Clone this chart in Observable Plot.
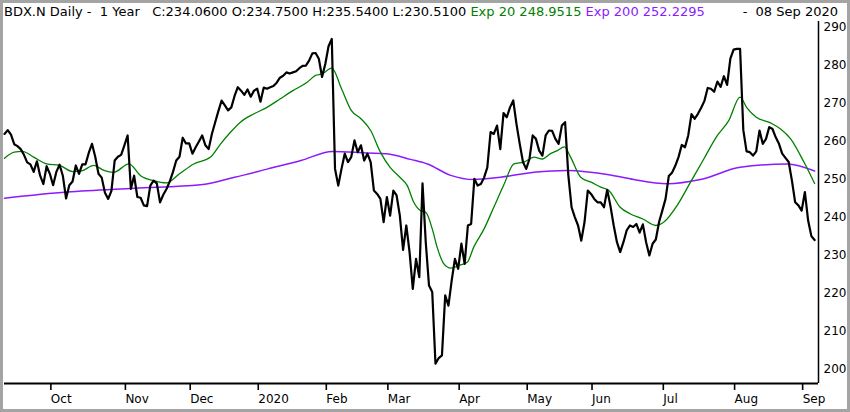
<!DOCTYPE html>
<html>
<head>
<meta charset="utf-8">
<script src="https://cdn.jsdelivr.net/npm/d3@7"></script>
<script src="https://cdn.jsdelivr.net/npm/@observablehq/plot@0.6"></script>
<style>
  html, body { margin: 0; padding: 0; background: #fff; }
  #wrap { position: relative; width: 850px; height: 412px; overflow: hidden; background: #fff; }
  #chart { position: absolute; left: 0; top: 0; }
  #border { position: absolute; left: 0; top: 0; width: 850px; height: 412px; box-sizing: border-box;
            border: 3px solid #a4a4a4; pointer-events: none; }
  #header { position: absolute; left: 4px; top: 4px; font-family: "DejaVu Sans", sans-serif; font-size: 13px;
            line-height: 15px; white-space: pre; color: #000; }
  #hdate { position: absolute; right: 12px; top: 4px; font-family: "DejaVu Sans", sans-serif; font-size: 13px;
           line-height: 15px; white-space: pre; color: #000; }
  .g { color: #008000; }
  .p { color: #8c1aff; }
</style>
</head>
<body>
<div id="wrap">
  <div id="chart"></div>
  <div id="header">BDX.N Daily -  1 Year   C:234.0600 O:234.7500 H:235.5400 L:230.5100 <span class="g">Exp 20 248.9515</span> <span class="p">Exp 200 252.2295</span></div>
  <div id="hdate">-  08 Sep 2020</div>
  <div id="border"></div>
</div>
<script>
// Daily closes, trading days from 11 Sep 2019 to 08 Sep 2020
const closeValues = [
  262, 263, 261.8, 259.3, 258.8, 258, 256.5, 254.5, 254, 252,
  254.8, 251, 248.8, 253.5, 251.5, 248.5, 252, 253.9, 251, 245,
  248.5, 249.5, 253.7, 251.5, 254, 254, 257, 259.4, 256, 251.5,
  250.5, 246.5, 244.9, 247, 255, 256, 256.5, 259, 261.6, 247.5,
  251, 245.4, 245.2, 243.2, 243, 248.4, 249.7, 249, 244, 246,
  247.5, 249.5, 252, 255, 256, 261, 259.5, 259.5, 256.8, 258.5,
  260, 261.6, 259, 258,
  262, 265, 268, 270.8, 269.5, 268.2, 269, 272, 274.3, 273.4,
  272.3, 273.7, 271.8, 273.4, 273.9, 270.5, 274.2, 273.9, 274.3, 274.6,
  275.5, 276.8, 277.3, 278.2, 277.9, 278.2, 278.5, 279.3, 279.9, 280,
  281.3, 283.2, 283.3, 281.8, 277, 280.4, 285.1, 287, 252.8, 248.4,
  252.8, 256.8, 254.6, 255.9, 260.3, 257.2, 259, 255, 256.8, 254.6,
  247.1, 246.2, 244.9, 238.8, 245.4, 240.5, 247.1, 245.8, 240.5, 231.5,
  237.9, 230.9,
  221.2, 229.1, 224.3, 249, 233.5, 222.1, 220.4, 201.5, 203, 203.7,
  219.5, 216.8, 223.4, 229.1, 226.5, 233.1, 227.8, 237.9, 238.3, 250.2,
  248.4, 248.8, 250.5, 253.2, 262.5, 262, 264.2, 258, 267.5, 266.4,
  269, 270.8, 264.6, 259.4, 254.6, 252.8, 255.4, 261.6, 260.7, 257.6,
  256.3, 261.6, 262.9, 262.8, 260.7, 259.4, 264.2, 265.1, 251.1, 242.7,
  240.1, 237.9, 233.9, 238.8, 247.1, 246.2, 244.9, 244, 244, 242.7,
  247.3, 243,
  237.9, 233.5, 230.9, 233.5, 236.6, 237.9, 237.5, 238.3, 236, 238.2,
  233.5, 230, 233.1, 234.2, 238.8, 241.8, 244.9, 250.9, 251.8, 253.6,
  255.9, 259.1, 258.5, 261.6, 267.2, 266, 267.3, 268.9, 270.7, 274.1,
  273.9, 273.1, 275.8, 274.4, 277.2, 274.9, 281.8, 284.2, 284.4, 284.4,
  263, 257.4, 257.2, 256.3, 257.4, 262.9, 259.4, 260.7, 263.8, 263.3,
  261.1, 259.4, 256.8, 255.7, 254.6, 249.7, 244, 243.2, 241.8, 246.7,
  239.2, 235.1, 234.06
];

// Exp 20 moving average, read at trading-day positions
const ema20Day = [0, 3, 5.5, 9, 13, 17, 21, 23.5, 27.6, 30.7, 33.7, 38.4, 42, 46, 50, 54, 58.4,
  63.6, 66.7, 69.8, 72.8, 77, 81, 85, 89, 93.4, 96, 98, 101, 104, 107, 110, 113, 116, 119, 122, 124.3,
  126.3, 128.4, 130, 132, 133.5, 135.6, 137.7, 140.7, 142.8, 144.8, 148, 151, 154, 157.2, 160.3, 163.4,
  166, 168.5, 170.6, 172.8, 174.7, 177.8, 181, 184,
  186.5, 190, 193, 197, 201, 203.5, 207.6, 211.7, 215.8, 220, 223.5, 227, 229, 232, 236.4, 239.5, 242.6, 246.7, 250];
const ema20Value = [255.6, 257.2, 257.4, 255.9, 254.1, 253.7, 252.1, 252.2, 253.7, 252.4, 251.9, 254.1, 251, 249.7, 249.1, 251.5, 254.1,
  255.9, 259.4, 262.5, 265.1, 267.3, 269, 271.2, 273.4, 275.6, 277.4, 277.8, 279.3, 273.9, 268.2, 266, 262.9, 257.2, 253.2, 250.6, 248.4,
  244, 241.8, 241.4, 237, 232.2, 227.8, 226.7, 227.5, 228.2, 232.2, 237, 242.7, 248.4, 254.1, 254.6, 255.9,
  255.4, 256.8, 257.6, 258.6, 255.9, 250.6, 249.3, 248,
  247.1, 242.7, 241, 239.6, 237.9, 238.8, 243.2, 249.3, 255.4, 261.6, 265.5, 271.7, 269, 266.4, 264.9, 263.3, 260.7, 254.6, 248.9515];

// Exp 200 moving average
const ema200Day = [0, 19.3, 40, 60.5, 71, 81.3, 91.5, 101.2, 112, 118, 125.3, 130.5, 137.7, 144.8, 153, 163.4, 173.7, 187, 194.2, 204.5, 214.8, 227, 241.6, 250];
const ema200Value = [245.1, 246.7, 247.7, 248.6, 250.6, 252.8, 255, 257.4, 257, 256.8, 255.3, 254.1, 251.1, 250, 250.6, 251.9, 252.4, 251.2, 250, 248.9, 250, 253.2, 254.1, 252.2295];

// Month ticks (trading-day index of first session of each month)
const monthTickDay = [14, 37, 57, 78, 99, 118, 140, 161, 181, 203, 225, 246];
const monthTickLabel = ["Oct", "Nov", "Dec", "2020", "Feb", "Mar", "Apr", "May", "Jun", "Jul", "Aug", "Sep"];
const priceTicks = [200, 210, 220, 230, 240, 250, 260, 270, 280, 290];

const xDomain = [0, 251.2];
const yDomain = [196.3, 291.6];

const closeData = closeValues.map((v, i) => ({day: i, value: v}));
const ema20Data = ema20Day.map((d, i) => ({day: d, value: ema20Value[i]}));
const ema200Data = ema200Day.map((d, i) => ({day: d, value: ema200Value[i]}));

const chart = Plot.plot({
  width: 850,
  height: 412,
  marginLeft: 4,
  marginRight: 32,
  marginTop: 21,
  marginBottom: 29,
  style: {background: "transparent", fontFamily: "DejaVu Sans, sans-serif", fontSize: "12px", color: "black"},
  x: {domain: xDomain, axis: null, label: null},
  y: {domain: yDomain, axis: null, label: null},
  marks: [
    Plot.axisX({ticks: monthTickDay, tickFormat: d => monthTickLabel[monthTickDay.indexOf(d)], label: null,
      tickSize: 7, tickPadding: 4, textAnchor: "start", dx: 1, strokeWidth: 1.6, fontSize: 12}),
    Plot.axisY({anchor: "right", ticks: priceTicks, tickSize: 0, tickPadding: 5, fontSize: 12, label: null}),
    Plot.ruleY([yDomain[0]], {stroke: "black", strokeWidth: 2}),
    Plot.ruleX([xDomain[1]], {stroke: "black", strokeWidth: 1.5}),
    Plot.line(ema200Data, {x: "day", y: "value", stroke: "#8c1aff", strokeWidth: 1.5, curve: "monotone-x"}),
    Plot.line(ema20Data, {x: "day", y: "value", stroke: "#008000", strokeWidth: 1.3, curve: "monotone-x"}),
    Plot.line(closeData, {x: "day", y: "value", stroke: "black", strokeWidth: 2.2, strokeLinejoin: "round"})
  ]
});
document.getElementById("chart").appendChild(chart);
</script>
</body>
</html>
